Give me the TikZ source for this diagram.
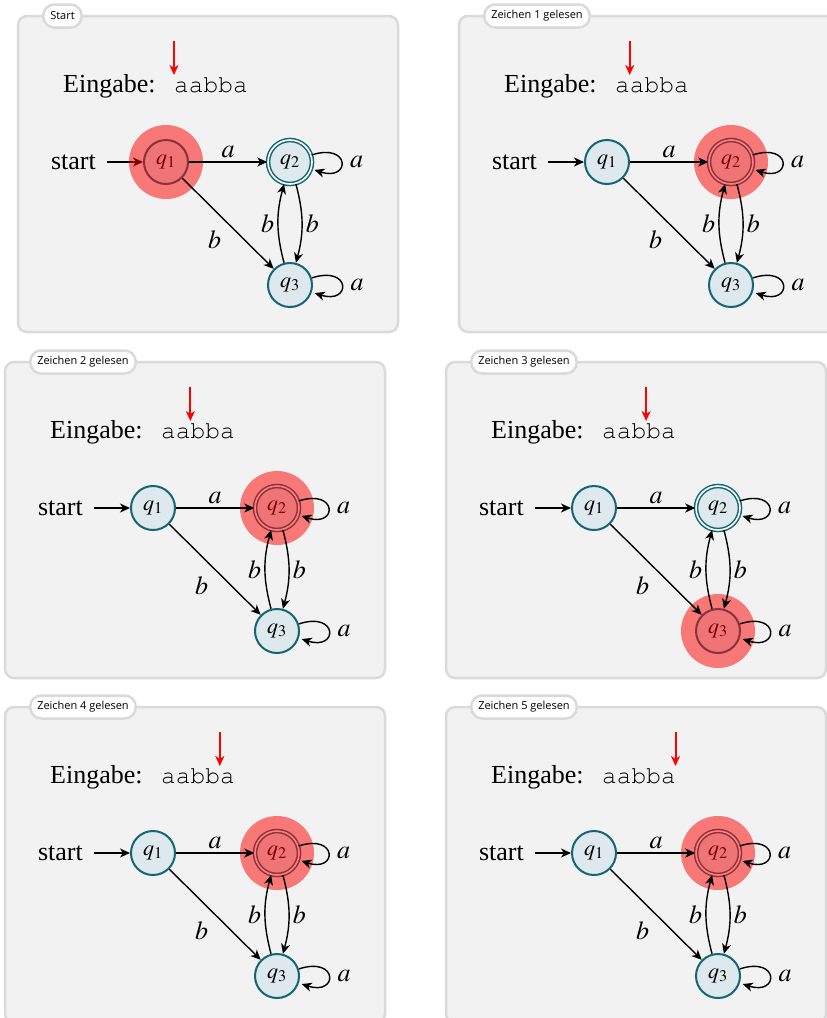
\documentclass[tikz,border=0pt]{standalone}
\usepackage{mathptmx}
\usepackage{fontspec}
\setmainfont{Liberation Serif}
\setmonofont{texgyrecursor-regular.otf}
\newfontfamily\tagfont{Open Sans}
\usepackage{tikz}
\usetikzlibrary{arrows,arrows.meta,positioning,shapes}
\usepackage{xcolor}

\definecolor{zrand}{RGB}{20,102,118}
\definecolor{zfuell}{RGB}{222,233,237}
\definecolor{kasten}{RGB}{242,242,242}
\definecolor{kastenrand}{RGB}{218,218,218}

% one panel: #1,#2 top left corner, #3 title, #4 characters read, #5 active state
\newcommand{\stufe}[5]{%
  \begin{scope}[shift={(#1,-#2)}]
    \draw[kastenbox] (0,0) rectangle (380,-316);
    \node[etikett] (T) at (24,0) {#3};

    \node[schrift] (E) at (45,-76) {Eingabe:};
    \node[band] (W) at (156,-76) {aabba};
    \coordinate (Z1) at (156+#4*14.7,-25);
    \coordinate (Z2) at (156+#4*14.7,-59);
    \draw[zeiger] (Z1) -- (Z2);

    \node[zustand] (A) at (148,-146) {$q_1$};
    \node[zustand, akzeptiert] (B)
      [on grid, right=124pt of A] {$q_2$};
    \node[zustand] (C)
      [on grid, below=123pt of B] {$q_3$};
    \node[schrift, anchor=east] (S) at (78,-146) {start};
    \draw[kante, shorten <=11pt] (S) -- (A);

    \fill[glut] (#5) circle (37);

    \draw[kante] (A) -- node[above] {$a$} (B);
    \draw[kante] (A) -- node[below left=4pt] {$b$} (C);
    \draw[kante] (B) to[bend left=15] node[right] {$b$} (C);
    \draw[kante] (C) to[bend left=15] node[left] {$b$} (B);
    \draw[kante, shorten >=3pt] (B) to[out=18, in=-18, looseness=7.5]
      node[right=5pt] {$a$} (B);
    \draw[kante, shorten >=3pt] (C) to[out=18, in=-18, looseness=7.5]
      node[right=5pt] {$a$} (C);
  \end{scope}}

\begin{document}
\begin{tikzpicture}[x=1pt, y=1pt, font=\fontsize{26}{31}\selectfont,
    >={Stealth[length=10pt, width=9pt, inset=3pt]}]
  \tikzstyle{kastenbox}
    =[draw=kastenrand, fill=kasten, line width=2.5pt, rounded corners=9pt]
  \tikzstyle{etikett}
    =[draw=kastenrand, fill=white, line width=2.5pt, rounded corners=11pt,
    anchor=west, minimum height=23pt, inner xsep=7pt, inner ysep=0pt,
    font=\tagfont\fontsize{11}{13}\selectfont]
  \tikzstyle{schrift}=[inner sep=0pt, anchor=base west]
  \tikzstyle{band}
    =[inner sep=0pt, anchor=base west, text=black,
    font=\ttfamily\fontsize{24.5}{29}\selectfont]
  \tikzstyle{zeiger}
    =[red, line width=2pt, -{Stealth[length=10pt, width=9pt, inset=3pt]}]
  \tikzstyle{zustand}
    =[circle, draw=zrand, fill=zfuell, line width=2pt, minimum size=44pt,
    inner sep=0pt, font=\fontsize{22}{26}\selectfont]
  \tikzstyle{akzeptiert}
    =[double=white, double distance=1.6pt, line width=1.5pt]
  \tikzstyle{kante}=[->, line width=1.4pt]
  \tikzstyle{glut}=[red, opacity=.5]

  \useasboundingbox (0,0) rectangle (827,-1018);

  \stufe{18}{16}{Start}{0}{A}
  \stufe{459}{16}{Zeichen 1 gelesen}{1}{B}
  \stufe{5}{362}{Zeichen 2 gelesen}{2}{B}
  \stufe{446}{362}{Zeichen 3 gelesen}{3}{C}
  \stufe{5}{707}{Zeichen 4 gelesen}{4}{B}
  \stufe{446}{707}{Zeichen 5 gelesen}{5}{B}
\end{tikzpicture}
\end{document}
